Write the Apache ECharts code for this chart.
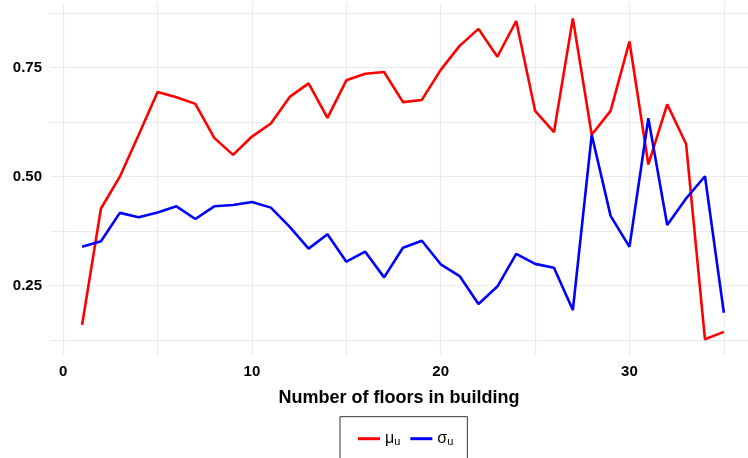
<!DOCTYPE html>
<html>
<head>
<meta charset="utf-8">
<script src="https://cdn.jsdelivr.net/npm/echarts@6/dist/echarts.min.js"></script>
<style>html,body{margin:0;padding:0;background:#fff}#c{width:748px;height:458px}</style>
</head>
<body>
<div id="c"></div>
<script>
const floors = [1,2,3,4,5,6,7,8,9,10,11,12,13,14,15,16,17,18,19,20,21,22,23,24,25,26,27,28,29,30,31,32,33,34,35];
const muU = [0.160,0.427,0.500,0.596,0.694,0.682,0.667,0.589,0.550,0.592,0.622,0.683,0.714,0.635,0.721,0.736,0.740,0.671,0.676,0.745,0.800,0.839,0.775,0.857,0.651,0.602,0.863,0.596,0.651,0.810,0.528,0.666,0.575,0.127,0.144];
const sigmaU = [0.339,0.352,0.417,0.407,0.418,0.432,0.403,0.432,0.435,0.442,0.429,0.385,0.335,0.368,0.305,0.328,0.269,0.337,0.353,0.299,0.272,0.208,0.248,0.323,0.300,0.291,0.194,0.596,0.410,0.339,0.634,0.389,0.450,0.501,0.188];
const xTickLabels = [0,10,20,30];
const xGridValues = [0,5,10,15,20,25,30,35];
const yTickLabels = [0.25,0.50,0.75];
const yGridValues = [0.125,0.25,0.375,0.5,0.625,0.75,0.875];
const seriesNames = ['μ{s|u}','σ{s|u}'];

const chart = echarts.init(document.getElementById('c'), null, {renderer:'canvas'});
const font = 'Liberation Sans, Arial, sans-serif';
const lineIcon = 'path://M0,0 L22,0 L22,3 L0,3 Z';
chart.setOption({
  animation:false,
  backgroundColor:'#ffffff',
  grid:{left:50, top:2.7, right:0, height:352.3, containLabel:false},
  xAxis:{
    type:'value', min:-0.7, max:36.28,
    name:'Number of floors in building', nameLocation:'middle', nameGap:34,
    nameTextStyle:{fontFamily:font, fontWeight:'bold', fontSize:18, color:'#000'},
    axisLine:{show:false},
    axisTick:{show:false, customValues:xGridValues},
    axisLabel:{customValues:xTickLabels, fontFamily:font, fontWeight:'bold', fontSize:15, color:'#000', margin:9},
    splitLine:{show:true, lineStyle:{color:'#ebebeb', width:1.2}}
  },
  yAxis:{
    type:'value', min:0.091, max:0.899,
    axisLine:{show:false},
    axisTick:{show:false, customValues:yGridValues},
    axisLabel:{customValues:yTickLabels, fontFamily:font, fontWeight:'bold', fontSize:15, color:'#000', margin:8,
      formatter:v=>v.toFixed(2)},
    splitLine:{show:true, lineStyle:{color:'#ebebeb', width:1.2}}
  },
  legend:{
    left:340, top:416.7,
    orient:'horizontal',
    padding:[14,14,14,18],
    itemWidth:22, itemHeight:14, itemGap:10,
    borderColor:'#333', borderWidth:1,
    data:seriesNames.map(n=>({name:n, icon:lineIcon})),
    textStyle:{fontFamily:font, fontSize:16, color:'#000',
      rich:{s:{fontFamily:font, fontSize:11, color:'#000', verticalAlign:'bottom', padding:[6,0,0,0]}}}
  },
  series:[
    {name:seriesNames[0], type:'line', symbol:'none', data:floors.map((f,i)=>[f,muU[i]]),
      lineStyle:{color:'#ff0000', width:2.6}, itemStyle:{color:'#ff0000'}},
    {name:seriesNames[1], type:'line', symbol:'none', data:floors.map((f,i)=>[f,sigmaU[i]]),
      lineStyle:{color:'#0000ff', width:2.6}, itemStyle:{color:'#0000ff'}}
  ]
});
</script>
</body>
</html>
